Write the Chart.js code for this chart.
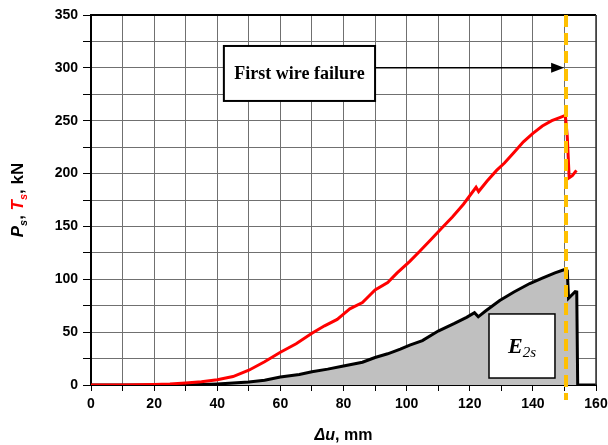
<!DOCTYPE html>
<html>
<head>
<meta charset="utf-8">
<script src="https://cdn.jsdelivr.net/npm/chart.js@4.4.1/dist/chart.umd.min.js"></script>
<style>
  html, body { margin: 0; padding: 0; background: #fff; }
  #wrap { width: 608px; height: 445px; }
</style>
</head>
<body>
<div id="wrap"><canvas id="forceChart" width="608" height="445"></canvas></div>
<script>
// T_s (red) - tension vs displacement
const tensionU = [0, 10, 20, 25, 30, 35, 40, 45, 50, 55, 60, 65, 70, 74, 78, 80, 82, 86, 88, 90, 94, 97, 101, 104, 107.5, 111, 114.5, 118, 122, 122.8, 125.5, 128.5, 131, 134, 137, 140, 143, 146, 148.5, 150.3, 150.9, 151.5, 152.5, 153.8];
const tensionKN = [0, 0, 0.5, 1, 2, 3, 5, 8, 14, 22, 31, 39, 49, 56, 62, 67, 72, 78, 84, 90, 97, 106, 117, 126, 137, 148, 159, 171, 187, 183, 193, 203, 210, 220, 230, 238, 245, 250, 253, 255, 235, 196, 198, 203];

// P_s (black, gray area E2s)
const loadU = [0, 25, 30, 35, 40, 45, 50, 55, 60, 66, 70, 75, 80, 86, 90, 94, 98, 101, 105, 110, 115, 119, 121.5, 122.7, 125, 129.5, 134, 139, 143, 147, 150.3, 150.9, 151.3, 153.4, 153.9, 154.2, 160];
const loadKN = [0, 0, 0.2, 0.5, 1, 1.8, 2.8, 4.5, 7.5, 10, 12.6, 15, 18, 21.5, 26, 29.5, 34, 37.8, 42, 51, 58, 64, 68.4, 64.5, 70, 80, 88, 96, 101, 106, 109.5, 108, 82, 88.3, 88, 0, 0];

const xTicks = [0, 20, 40, 60, 80, 100, 120, 140, 160];
const yTicks = [0, 50, 100, 150, 200, 250, 300, 350];

const failureU = 150.5;

const SANS = "'Liberation Sans', Arial, sans-serif";
const SERIF = "'Liberation Serif', 'Times New Roman', serif";

function toPoints(xs, ys) {
    return xs.map((x, i) => ({ x: x, y: ys[i] }));
}

// extra drawing: frame, titles, failure line, boxes
const decorations = {
    id: 'decorations',
    afterDatasetsDraw(chart) {
        const ctx = chart.ctx;
        const a = chart.chartArea;
        const xs = chart.scales.x;
        const ys = chart.scales.y;
        ctx.save();

        // top / right frame
        ctx.strokeStyle = '#000';
        ctx.lineWidth = 2;
        ctx.beginPath();
        ctx.moveTo(a.left, a.top);
        ctx.lineTo(a.right, a.top);
        ctx.stroke();
        ctx.strokeStyle = '#333';
        ctx.lineWidth = 1.5;
        ctx.beginPath();
        ctx.moveTo(a.right, a.top);
        ctx.lineTo(a.right, a.bottom);
        ctx.stroke();

        // failure line
        const fx = xs.getPixelForValue(failureU);
        ctx.strokeStyle = '#FFC000';
        ctx.lineWidth = 4;
        ctx.setLineDash([12, 6]);
        ctx.beginPath();
        ctx.moveTo(fx, a.top);
        ctx.lineTo(fx, a.bottom + 15);
        ctx.stroke();
        ctx.setLineDash([]);

        // "First wire failure" box
        const bx1 = xs.getPixelForValue(42.1), bx2 = xs.getPixelForValue(90);
        const by1 = ys.getPixelForValue(320.7), by2 = ys.getPixelForValue(268.7);
        ctx.fillStyle = '#fff';
        ctx.fillRect(bx1, by1, bx2 - bx1, by2 - by1);
        ctx.strokeStyle = '#000';
        ctx.lineWidth = 2;
        ctx.strokeRect(bx1, by1, bx2 - bx1, by2 - by1);
        ctx.fillStyle = '#000';
        ctx.font = 'bold 18px ' + SERIF;
        ctx.textAlign = 'center';
        ctx.textBaseline = 'middle';
        ctx.fillText('First wire failure', (bx1 + bx2) / 2, (by1 + by2) / 2 + 1);

        // arrow
        const ay = ys.getPixelForValue(300);
        const tip = xs.getPixelForValue(149.9);
        ctx.lineWidth = 1.5;
        ctx.beginPath();
        ctx.moveTo(bx2, ay);
        ctx.lineTo(tip - 10, ay);
        ctx.stroke();
        ctx.beginPath();
        ctx.moveTo(tip, ay);
        ctx.lineTo(tip - 13, ay - 5);
        ctx.lineTo(tip - 13, ay + 5);
        ctx.closePath();
        ctx.fill();

        // E2s box
        const ex1 = xs.getPixelForValue(126.1), ex2 = xs.getPixelForValue(147);
        const ey1 = ys.getPixelForValue(67.2), ey2 = ys.getPixelForValue(6.6);
        ctx.fillStyle = '#fff';
        ctx.fillRect(ex1, ey1, ex2 - ex1, ey2 - ey1);
        ctx.lineWidth = 1.5;
        ctx.strokeRect(ex1, ey1, ex2 - ex1, ey2 - ey1);
        ctx.fillStyle = '#000';
        ctx.textAlign = 'left';
        ctx.textBaseline = 'alphabetic';
        ctx.font = 'italic bold 22px ' + SERIF;
        const eW = ctx.measureText('E').width;
        ctx.font = 'italic 15px ' + SERIF;
        const sW = ctx.measureText('2s').width;
        const ecx = (ex1 + ex2) / 2, ecy = (ey1 + ey2) / 2;
        let tx = ecx - (eW + sW) / 2;
        ctx.font = 'italic bold 22px ' + SERIF;
        ctx.fillText('E', tx, ecy + 7);
        ctx.font = 'italic 15px ' + SERIF;
        ctx.fillText('2s', tx + eW, ecy + 11);

        // x title
        ctx.font = 'italic bold 16px ' + SANS;
        const w1 = ctx.measureText('\u0394u').width;
        ctx.font = 'bold 16px ' + SANS;
        const w2 = ctx.measureText(', mm').width;
        let xx = (a.left + a.right) / 2 - (w1 + w2) / 2;
        ctx.font = 'italic bold 16px ' + SANS;
        ctx.fillText('\u0394u', xx, 440);
        ctx.font = 'bold 16px ' + SANS;
        ctx.fillText(', mm', xx + w1, 440);

        // y title (rotated, mixed colours)
        const parts = [
            { t: 'P', f: 'italic bold 17px ', c: '#000', dy: 0 },
            { t: 's', f: 'italic bold 11px ', c: '#000', dy: 4 },
            { t: ', ', f: 'bold 17px ', c: '#000', dy: 0 },
            { t: 'T', f: 'italic bold 17px ', c: '#ff0000', dy: 0 },
            { t: 's', f: 'italic bold 11px ', c: '#ff0000', dy: 4 },
            { t: ', ', f: 'bold 17px ', c: '#000', dy: 0 },
            { t: 'kN', f: 'bold 17px ', c: '#000', dy: 0 }
        ];
        let total = 0;
        parts.forEach(p => { ctx.font = p.f + SANS; p.w = ctx.measureText(p.t).width; total += p.w; });
        ctx.translate(23, (a.top + a.bottom) / 2);
        ctx.rotate(-Math.PI / 2);
        let px = -total / 2;
        parts.forEach(p => {
            ctx.font = p.f + SANS;
            ctx.fillStyle = p.c;
            ctx.fillText(p.t, px, p.dy);
            px += p.w;
        });

        ctx.restore();
    }
};

const ctx = document.getElementById('forceChart').getContext('2d');
new Chart(ctx, {
    type: 'line',
    data: {
        datasets: [
            {
                label: 'T_s',
                data: toPoints(tensionU, tensionKN),
                borderColor: '#ff0000',
                borderWidth: 3,
                pointRadius: 0,
                fill: false,
                tension: 0,
                order: 1
            },
            {
                label: 'P_s',
                data: toPoints(loadU, loadKN),
                borderColor: '#000',
                backgroundColor: '#c0c0c0',
                borderWidth: 3,
                pointRadius: 0,
                fill: 'origin',
                tension: 0,
                order: 2
            }
        ]
    },
    options: {
        responsive: false,
        animation: false,
        layout: { padding: { top: 15, right: 0, left: 0, bottom: 0 } },
        plugins: {
            legend: { display: false },
            tooltip: { enabled: false }
        },
        scales: {
            x: {
                type: 'linear',
                min: 0,
                max: 160,
                afterFit: s => { s.height = 60; s.paddingRight = 12; s.paddingLeft = 0; },
                ticks: {
                    stepSize: 10,
                    autoSkip: false,
                    maxRotation: 0,
                    padding: 5,
                    color: '#000',
                    font: { family: SANS, size: 14, weight: 'bold' },
                    callback: v => xTicks.includes(v) ? v : ''
                },
                grid: { color: '#707070', lineWidth: 1, tickLength: 6, tickColor: '#000' },
                border: { color: '#000', width: 2 }
            },
            y: {
                min: 0,
                max: 350,
                afterFit: s => { s.width = 91; },
                ticks: {
                    stepSize: 25,
                    autoSkip: false,
                    padding: 5,
                    color: '#000',
                    font: { family: SANS, size: 14, weight: 'bold' },
                    callback: v => yTicks.includes(v) ? v : ''
                },
                grid: { color: '#707070', lineWidth: 1, tickLength: 8, tickColor: '#000' },
                border: { color: '#000', width: 2 }
            }
        }
    },
    plugins: [decorations]
});
</script>
</body>
</html>
